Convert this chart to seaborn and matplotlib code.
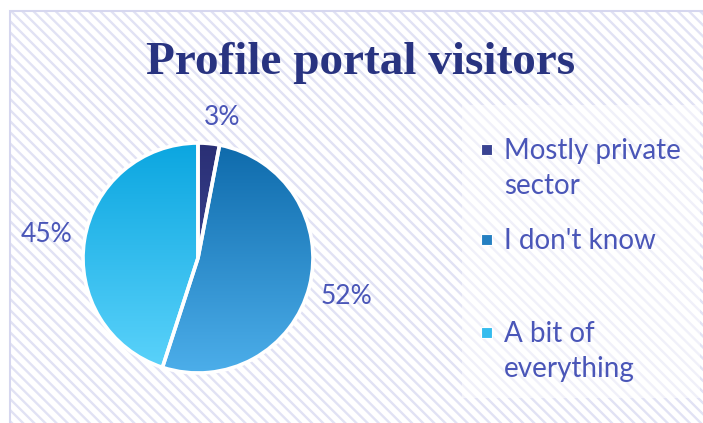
import numpy as np
import matplotlib
matplotlib.use("Agg")
import matplotlib.pyplot as plt
from matplotlib.patches import Rectangle
import seaborn as sns

# data
categories = ["Mostly private\nsector", "I don't know", "A bit of\neverything"]
shares = [3, 52, 45]
# gradient colours per slice (top -> bottom)
grad_top = ["#2A2F74", "#0E6AAB", "#0BA6E0"]
grad_bottom = ["#4552A8", "#4CAEEA", "#5CD3FB"]
legend_colors = ["#3A4392", "#2580C2", "#34BCEE"]

title = "Profile portal visitors"
text_color = "#4A56B8"
title_color = "#283380"

sns.set_theme(style="white")
plt.rcParams["font.family"] = ["Lato", "DejaVu Sans"]
plt.rcParams["hatch.linewidth"] = 1.7

W, H = 703, 423
fig = plt.figure(figsize=(W / 100, H / 100), dpi=100)
fig.patch.set_facecolor("white")

# hatched chart background (behind the axes)
bg = Rectangle((10 / W, 0), 1 - 10 / W, 1 - 11 / H, transform=fig.transFigure,
               facecolor="white", edgecolor="#E1E2F4", linewidth=0,
               hatch="\\\\\\", zorder=-10)
fig.patches.append(bg)
fig.patches.append(Rectangle((10 / W, -0.01), 1, 1 - 11 / H + 0.01, transform=fig.transFigure,
                             facecolor="none", edgecolor="#D6D7EF", linewidth=1.5,
                             zorder=-9))
# lighter legend area
fig.patches.append(Rectangle((462 / W, (H - 398) / H), 238 / W, 293 / H,
                             transform=fig.transFigure, facecolor="white",
                             alpha=0.5, edgecolor="none", zorder=-8))

fig.text(361 / W, 1 - 63 / H, title, ha="center", va="center",
         fontsize=34, fontweight="bold", color=title_color,
         family=["Liberation Serif", "DejaVu Serif"])

# pie
ax = fig.add_axes([83 / W, (H - 373) / H, 230 / W, 230 / H])
wedges, texts, autotexts = ax.pie(
    shares, startangle=90, counterclock=False, autopct="%d%%",
    pctdistance=1.33, colors=legend_colors,
    wedgeprops=dict(edgecolor="white", linewidth=2.6),
    textprops=dict(color=text_color, fontsize=19),
)
# the small slice's label sits a bit to the right in the original
autotexts[0].set_position((0.21, 1.22))

grad = np.linspace(0, 1, 256).reshape(-1, 1)
for w, c0, c1 in zip(wedges, grad_top, grad_bottom):
    cmap = sns.blend_palette([c0, c1], n_colors=256, as_cmap=True)
    im = ax.imshow(grad, cmap=cmap, extent=(-1, 1, -1, 1), origin="upper",
                   aspect="auto", zorder=0)
    im.set_clip_path(w)
    w.set_facecolor("none")
    w.set_zorder(2)

ax.set_xlim(-1.0, 1.0)
ax.set_ylim(-1.0, 1.0)
ax.set_axis_off()

# legend (marker sits on first text line, like the original)
legend_y = [150, 240, 333]
for lab, col, y in zip(categories, legend_colors, legend_y):
    fig.patches.append(Rectangle((481 / W, 1 - (y + 5) / H), 11 / W, 11 / H,
                                 transform=fig.transFigure, facecolor=col,
                                 edgecolor="white", linewidth=0.8, zorder=-5))
    fig.text(504 / W, 1 - (y - 12) / H, lab, ha="left", va="top",
             fontsize=20, color=text_color, linespacing=1.42)

fig.savefig("out.png", dpi=100)
